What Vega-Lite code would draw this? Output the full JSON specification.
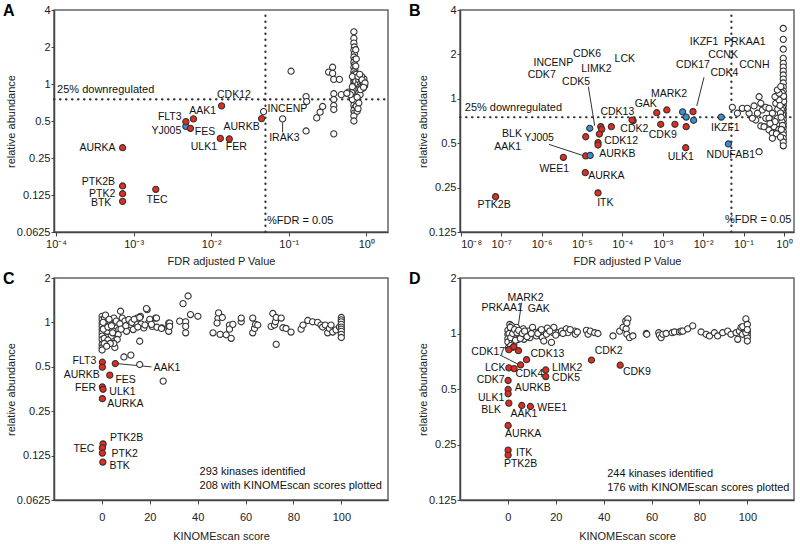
{
"$schema": "https://vega.github.io/schema/vega-lite/v6.json",
"padding": {"left": 2, "top": 2, "right": 4, "bottom": 0},
"config": {
  "font": "Liberation Sans",
  "view": {"stroke": "#666", "strokeWidth": 1.5},
  "axis": {"domainColor": "#444", "domainWidth": 1.5, "tickColor": "#444", "tickWidth": 1, "labelFont": "Liberation Sans", "titleFont": "Liberation Sans", "labelFontSize": 11, "titleFontSize": 11, "titleFontWeight": "normal", "labelColor": "#222", "titleColor": "#222", "grid": false},
  "title": {"font": "Liberation Sans", "fontSize": 16, "fontWeight": "bold", "color": "#000", "anchor": "start", "frame": "group", "offset": 0, "baseline": "alphabetic"}
},
"datasets": {
  "A": [
    {"x":0.0473,"y":0.596,"t":"g"},{"x":0.0832,"y":0.52,"t":"g"},{"x":0.107,"y":1.27,"t":"g"},{"x":0.167,"y":0.79,"t":"g"},{"x":0.17,"y":0.72,"t":"g"},{"x":0.167,"y":0.415,"t":"g"},{"x":0.229,"y":0.53,"t":"g"},{"x":0.253,"y":0.59,"t":"g"},{"x":0.273,"y":0.656,"t":"g"},{"x":0.326,"y":1.25,"t":"g"},{"x":0.367,"y":1.37,"t":"g"},{"x":0.367,"y":1.22,"t":"g"},{"x":0.38,"y":1.09,"t":"g"},{"x":0.449,"y":1.09,"t":"g"},{"x":0.38,"y":0.833,"t":"g"},{"x":0.475,"y":0.82,"t":"g"},{"x":0.38,"y":0.748,"t":"g"},{"x":0.38,"y":0.669,"t":"g"},{"x":0.38,"y":0.62,"t":"g"},{"x":0.38,"y":0.393,"t":"g"},{"x":0.586,"y":0.86,"t":"g"},
    {"x":0.69,"y":2.66,"t":"g"},{"x":0.69,"y":2.35,"t":"g"},{"x":0.69,"y":2.15,"t":"g"},{"x":0.7,"y":2.0,"t":"g"},{"x":0.69,"y":1.88,"t":"g"},{"x":0.7,"y":1.76,"t":"g"},{"x":0.69,"y":1.66,"t":"g"},{"x":0.7,"y":1.57,"t":"g"},{"x":0.69,"y":1.5,"t":"g"},{"x":0.7,"y":1.43,"t":"g"},{"x":0.69,"y":1.37,"t":"g"},{"x":0.71,"y":1.31,"t":"g"},{"x":0.69,"y":1.26,"t":"g"},{"x":0.7,"y":1.21,"t":"g"},{"x":0.69,"y":1.17,"t":"g"},{"x":0.71,"y":1.13,"t":"g"},{"x":0.69,"y":1.09,"t":"g"},{"x":0.7,"y":1.06,"t":"g"},{"x":0.69,"y":1.03,"t":"g"},{"x":0.7,"y":1.0,"t":"g"},{"x":0.69,"y":0.97,"t":"g"},{"x":0.71,"y":0.94,"t":"g"},{"x":0.69,"y":0.91,"t":"g"},{"x":0.7,"y":0.88,"t":"g"},{"x":0.69,"y":0.85,"t":"g"},{"x":0.71,"y":0.82,"t":"g"},{"x":0.69,"y":0.79,"t":"g"},{"x":0.7,"y":0.76,"t":"g"},{"x":0.69,"y":0.73,"t":"g"},{"x":0.7,"y":0.7,"t":"g"},{"x":0.69,"y":0.67,"t":"g"},{"x":0.71,"y":0.64,"t":"g"},{"x":0.69,"y":0.61,"t":"g"},{"x":0.7,"y":0.58,"t":"g"},{"x":0.69,"y":0.55,"t":"g"},{"x":0.69,"y":0.5,"t":"g"},
    {"x":0.73,"y":1.9,"t":"g"},{"x":0.74,"y":1.6,"t":"g"},{"x":0.73,"y":1.4,"t":"g"},{"x":0.74,"y":1.2,"t":"g"},{"x":0.75,"y":1.1,"t":"g"},{"x":0.73,"y":1.05,"t":"g"},{"x":0.75,"y":0.95,"t":"g"},{"x":0.74,"y":0.9,"t":"g"},{"x":0.73,"y":0.8,"t":"g"},{"x":0.75,"y":0.72,"t":"g"},{"x":0.74,"y":0.66,"t":"g"},{"x":0.76,"y":0.6,"t":"g"},{"x":0.66,"y":1.15,"t":"g"},{"x":0.66,"y":0.95,"t":"g"},{"x":0.65,"y":0.85,"t":"g"},{"x":0.66,"y":0.75,"t":"g"},
    {"x":0.78,"y":1.0,"t":"g"},{"x":0.8,"y":1.08,"t":"g"},{"x":0.82,"y":0.95,"t":"g"},{"x":0.85,"y":1.02,"t":"g"},{"x":0.88,"y":0.98,"t":"g"},{"x":0.9,"y":1.05,"t":"g"},{"x":0.92,"y":1.0,"t":"g"},{"x":0.95,"y":0.97,"t":"g"},{"x":0.85,"y":1.12,"t":"g"},{"x":0.9,"y":0.92,"t":"g"},{"x":0.8,"y":0.9,"t":"g"},{"x":0.93,"y":1.1,"t":"g"},{"x":0.87,"y":1.15,"t":"g"},{"x":0.78,"y":1.15,"t":"g"},{"x":0.8,"y":0.85,"t":"g"},{"x":0.83,"y":0.82,"t":"g"},{"x":0.76,"y":0.78,"t":"g"},{"x":0.8,"y":0.7,"t":"g"},{"x":0.78,"y":0.63,"t":"g"},{"x":0.62,"y":0.82,"t":"g"},{"x":0.56,"y":0.84,"t":"g"},{"x":0.82,"y":1.2,"t":"g"},{"x":0.88,"y":1.08,"t":"g"},{"x":0.84,"y":0.9,"t":"g"},{"x":0.96,"y":1.02,"t":"g"},{"x":0.92,"y":0.94,"t":"g"},
    {"x":0.00471,"y":0.452,"t":"b"},
    {"x":0.00072,"y":0.303,"t":"r"},{"x":0.00072,"y":0.148,"t":"r"},{"x":0.00072,"y":0.128,"t":"r"},{"x":0.00072,"y":0.111,"t":"r"},{"x":0.00193,"y":0.139,"t":"r"},{"x":0.00471,"y":0.494,"t":"r"},{"x":0.0054,"y":0.436,"t":"r"},{"x":0.0059,"y":0.52,"t":"r"},{"x":0.0136,"y":0.664,"t":"r"},{"x":0.0131,"y":0.361,"t":"r"},{"x":0.0171,"y":0.357,"t":"r"},{"x":0.0446,"y":0.523,"t":"r"}
  ],
  "Alab": [
    {"x":0.000342,"y":0.303,"k":"AURKA"},{"x":0.000352,"y":0.158,"k":"PTK2B"},{"x":0.000393,"y":0.128,"k":"PTK2"},{"x":0.000381,"y":0.107,"k":"BTK"},{"x":0.002,"y":0.113,"k":"TEC"},{"x":0.00292,"y":0.536,"k":"FLT3"},{"x":0.00264,"y":0.418,"k":"YJ005"},{"x":0.0083,"y":0.41,"k":"FES"},{"x":0.00773,"y":0.608,"k":"AAK1"},{"x":0.0196,"y":0.817,"k":"CDK12"},{"x":0.00803,"y":0.31,"k":"ULK1"},{"x":0.021,"y":0.305,"k":"FER"},{"x":0.0246,"y":0.45,"k":"AURKB"},{"x":0.096,"y":0.628,"k":"INCENP"},{"x":0.0875,"y":0.361,"k":"IRAK3"}
  ],
  "Aann": [{"x":0.000103,"y":0.9,"k":"25% downregulated"},{"x":0.0524,"y":0.0766,"k":"%FDR = 0.05"}],
  "Adot": [{"x":0.05,"y":0.0625,"x2":0.05,"y2":4},{"x":0.000094,"y":0.75,"x2":1.9,"y2":0.75}],
  "Aline": [{"x":0.0832,"y":0.488,"x2":0.0832,"y2":0.404}],
  "B": [
    {"x":0.96,"y":3.0,"t":"g"},{"x":0.96,"y":2.53,"t":"g"},{"x":0.96,"y":2.17,"t":"g"},{"x":0.96,"y":1.88,"t":"g"},{"x":0.96,"y":1.74,"t":"g"},{"x":0.96,"y":1.64,"t":"g"},{"x":0.96,"y":1.54,"t":"g"},{"x":0.96,"y":1.45,"t":"g"},{"x":0.96,"y":1.36,"t":"g"},{"x":0.96,"y":1.28,"t":"g"},{"x":0.96,"y":1.2,"t":"g"},{"x":0.96,"y":1.13,"t":"g"},{"x":0.96,"y":1.06,"t":"g"},{"x":0.96,"y":1.0,"t":"g"},{"x":0.96,"y":0.95,"t":"g"},{"x":0.96,"y":0.9,"t":"g"},{"x":0.96,"y":0.85,"t":"g"},{"x":0.96,"y":0.8,"t":"g"},{"x":0.96,"y":0.76,"t":"g"},{"x":0.96,"y":0.72,"t":"g"},{"x":0.96,"y":0.68,"t":"g"},{"x":0.96,"y":0.64,"t":"g"},{"x":0.96,"y":0.6,"t":"g"},{"x":0.96,"y":0.57,"t":"g"},{"x":0.96,"y":0.54,"t":"g"},{"x":0.96,"y":0.51,"t":"g"},{"x":0.96,"y":0.48,"t":"g"},
    {"x":0.9,"y":1.1,"t":"g"},{"x":0.92,"y":1.0,"t":"g"},{"x":0.89,"y":0.92,"t":"g"},{"x":0.92,"y":0.87,"t":"g"},{"x":0.9,"y":0.82,"t":"g"},{"x":0.92,"y":0.78,"t":"g"},{"x":0.89,"y":0.7,"t":"g"},{"x":0.92,"y":0.66,"t":"g"},{"x":0.87,"y":1.02,"t":"g"},{"x":0.98,"y":0.96,"t":"g"},{"x":0.98,"y":1.04,"t":"g"},{"x":0.86,"y":0.85,"t":"g"},
    {"x":0.0933,"y":0.862,"t":"g"},{"x":0.137,"y":0.798,"t":"g"},{"x":0.124,"y":0.862,"t":"g"},{"x":0.182,"y":0.894,"t":"g"},{"x":0.242,"y":1.033,"t":"g"},{"x":0.267,"y":0.932,"t":"g"},{"x":0.292,"y":0.84,"t":"g"},{"x":0.355,"y":0.876,"t":"g"},{"x":0.427,"y":0.862,"t":"g"},{"x":0.516,"y":0.798,"t":"g"},{"x":0.355,"y":0.738,"t":"g"},{"x":0.2,"y":0.718,"t":"g"},{"x":0.267,"y":0.654,"t":"g"},{"x":0.321,"y":0.647,"t":"g"},{"x":0.427,"y":0.614,"t":"g"},{"x":0.516,"y":0.584,"t":"g"},{"x":0.569,"y":0.647,"t":"g"},{"x":0.687,"y":0.738,"t":"g"},{"x":0.627,"y":0.932,"t":"g"},{"x":0.757,"y":0.981,"t":"g"},{"x":0.6,"y":1.033,"t":"g"},{"x":0.757,"y":1.09,"t":"g"},{"x":0.687,"y":1.147,"t":"g"},{"x":0.834,"y":1.21,"t":"g"},{"x":0.0528,"y":0.876,"t":"g"},{"x":0.0703,"y":0.798,"t":"g"},{"x":0.165,"y":0.738,"t":"g"},{"x":0.22,"y":0.798,"t":"g"},{"x":0.427,"y":0.738,"t":"g"},{"x":0.516,"y":0.54,"t":"g"},{"x":0.242,"y":0.438,"t":"g"},
    {"x":0.7,"y":0.85,"t":"g"},{"x":0.8,"y":0.9,"t":"g"},{"x":0.82,"y":0.8,"t":"g"},{"x":0.85,"y":0.75,"t":"g"},{"x":0.6,"y":0.7,"t":"g"},{"x":0.45,"y":0.68,"t":"g"},{"x":0.75,"y":0.62,"t":"g"},{"x":0.65,"y":0.58,"t":"g"},{"x":0.82,"y":0.55,"t":"g"},{"x":0.86,"y":0.62,"t":"g"},
    {"x":0.0000292,"y":0.647,"t":"r"},{"x":0.0000309,"y":0.621,"t":"r"},{"x":0.0000535,"y":0.647,"t":"r"},{"x":0.0000124,"y":0.553,"t":"r"},{"x":0.000027,"y":0.577,"t":"r"},{"x":0.000025,"y":0.504,"t":"r"},{"x":0.000025,"y":0.486,"t":"r"},{"x":0.0000124,"y":0.41,"t":"r"},{"x":0.00000347,"y":0.401,"t":"r"},{"x":0.0000121,"y":0.316,"t":"r"},{"x":0.000025,"y":0.23,"t":"r"},{"x":0.000000073,"y":0.217,"t":"r"},{"x":0.000185,"y":0.712,"t":"r"},{"x":0.000174,"y":0.718,"t":"r"},{"x":0.00071,"y":0.805,"t":"r"},{"x":0.00126,"y":0.84,"t":"r"},{"x":0.00089,"y":0.672,"t":"r"},{"x":0.002,"y":0.672,"t":"r"},{"x":0.0056,"y":0.818,"t":"r"},{"x":0.0038,"y":0.647,"t":"r"},{"x":0.0037,"y":0.466,"t":"r"},
    {"x":0.0000156,"y":0.631,"t":"b"},{"x":0.000016,"y":0.413,"t":"b"},{"x":0.0031,"y":0.815,"t":"b"},{"x":0.0038,"y":0.752,"t":"b"},{"x":0.0058,"y":0.715,"t":"b"},{"x":0.028,"y":0.752,"t":"b"},{"x":0.042,"y":0.494,"t":"b"}
  ],
  "Blab": [
    {"x":0.0000134,"y":2.01,"k":"CDK6"},{"x":0.00000196,"y":1.757,"k":"INCENP"},{"x":0.000115,"y":1.87,"k":"LCK"},{"x":0.0000227,"y":1.6,"k":"LIMK2"},{"x":0.00000101,"y":1.45,"k":"CDK7"},{"x":0.00000715,"y":1.306,"k":"CDK5"},{"x":0.000000186,"y":0.577,"k":"BLK"},{"x":0.000000867,"y":0.545,"k":"YJ005"},{"x":0.000000146,"y":0.473,"k":"AAK1"},{"x":0.00000207,"y":0.333,"k":"WEE1"},{"x":0.0000402,"y":0.301,"k":"AURKA"},{"x":0.000038,"y":0.198,"k":"ITK"},{"x":0.0000000667,"y":0.19,"k":"PTK2B"},{"x":0.0000752,"y":0.42,"k":"AURKB"},{"x":0.000093,"y":0.518,"k":"CDK12"},{"x":0.000075,"y":0.814,"k":"CDK13"},{"x":0.000198,"y":0.621,"k":"CDK2"},{"x":0.001,"y":0.571,"k":"CDK9"},{"x":0.00038,"y":0.918,"k":"GAK"},{"x":0.00143,"y":1.072,"k":"MARK2"},{"x":0.00279,"y":0.405,"k":"ULK1"},{"x":0.0105,"y":2.42,"k":"IKZF1"},{"x":0.107,"y":2.42,"k":"PRKAA1"},{"x":0.0311,"y":1.98,"k":"CCNK"},{"x":0.0056,"y":1.695,"k":"CDK17"},{"x":0.185,"y":1.695,"k":"CCNH"},{"x":0.0335,"y":1.489,"k":"CDK4"},{"x":0.0355,"y":0.637,"k":"IKZF1"},{"x":0.0482,"y":0.416,"k":"NDUFAB1"}
  ],
  "Bann": [{"x":0.0000000126,"y":0.862,"k":"25% downregulated"},{"x":0.0348,"y":0.151,"k":"%FDR = 0.05"}],
  "Bdot": [{"x":0.05,"y":0.125,"x2":0.05,"y2":4},{"x":0.0000000096,"y":0.75,"x2":1.77,"y2":0.75}],
  "Bline": [{"x":0.0000144,"y":1.208,"x2":0.0000207,"y2":0.657},{"x":0.00000153,"y":0.491,"x2":0.0000113,"y2":0.41},{"x":0.0105,"y":1.4,"x2":0.00695,"y2":0.894}],
  "C": [
    {"x":0.1,"y":1.1,"t":"g"},{"x":0.1,"y":1.045,"t":"g"},{"x":0.1,"y":0.99,"t":"g"},{"x":0.1,"y":0.94,"t":"g"},{"x":0.1,"y":0.894,"t":"g"},{"x":0.1,"y":0.849,"t":"g"},{"x":0.1,"y":0.807,"t":"g"},{"x":0.1,"y":0.766,"t":"g"},{"x":0.1,"y":0.709,"t":"g"},{"x":0.1,"y":0.674,"t":"g"},{"x":0.1,"y":0.65,"t":"g"},
    {"x":1.1,"y":1.07,"t":"g"},{"x":1.5,"y":0.966,"t":"g"},{"x":2.2,"y":0.87,"t":"g"},{"x":2.5,"y":1.02,"t":"g"},{"x":3.6,"y":0.99,"t":"g"},{"x":3.6,"y":0.917,"t":"g"},{"x":3.9,"y":0.807,"t":"g"},{"x":5,"y":1.07,"t":"g"},{"x":5.7,"y":0.975,"t":"g"},{"x":6.1,"y":0.917,"t":"g"},{"x":5,"y":0.87,"t":"g"},{"x":7.1,"y":0.894,"t":"g"},{"x":6.8,"y":0.828,"t":"g"},{"x":6.4,"y":0.766,"t":"g"},{"x":5.4,"y":0.677,"t":"g"},{"x":5,"y":0.72,"t":"g"},
    {"x":7.8,"y":1.19,"t":"g"},{"x":8.5,"y":1.07,"t":"g"},{"x":9.2,"y":0.99,"t":"g"},{"x":8.5,"y":0.94,"t":"g"},{"x":10.3,"y":0.87,"t":"g"},{"x":9.6,"y":1.02,"t":"g"},{"x":11.25,"y":1.045,"t":"g"},{"x":11.9,"y":0.966,"t":"g"},{"x":13.1,"y":0.894,"t":"g"},{"x":14,"y":0.99,"t":"g"},{"x":14.7,"y":1.07,"t":"g"},{"x":16.1,"y":1.1,"t":"g"},{"x":16.4,"y":0.975,"t":"g"},{"x":15.8,"y":0.745,"t":"g"},{"x":17.5,"y":0.917,"t":"g"},{"x":18.9,"y":1.22,"t":"g"},{"x":19.6,"y":1.0,"t":"g"},{"x":21,"y":0.94,"t":"g"},{"x":22.4,"y":1.07,"t":"g"},{"x":23,"y":0.927,"t":"g"},{"x":25.1,"y":0.917,"t":"g"},{"x":27.9,"y":0.99,"t":"g"},{"x":27.9,"y":0.94,"t":"g"},{"x":27.9,"y":0.87,"t":"g"},
    {"x":0.5,"y":1.0,"t":"g"},{"x":0.6,"y":0.9,"t":"g"},{"x":1.5,"y":1.12,"t":"g"},{"x":2.5,"y":0.93,"t":"g"},{"x":3,"y":1.05,"t":"g"},{"x":4,"y":0.95,"t":"g"},{"x":4.5,"y":0.85,"t":"g"},{"x":6,"y":1.02,"t":"g"},{"x":7.5,"y":0.98,"t":"g"},{"x":8,"y":0.9,"t":"g"},{"x":10,"y":0.95,"t":"g"},{"x":12.5,"y":1.0,"t":"g"},{"x":13.5,"y":1.05,"t":"g"},{"x":15,"y":0.93,"t":"g"},{"x":18,"y":0.96,"t":"g"},{"x":20,"y":1.05,"t":"g"},{"x":1,"y":0.78,"t":"g"},{"x":2.5,"y":0.76,"t":"g"},{"x":3.5,"y":0.72,"t":"g"},{"x":1,"y":0.72,"t":"g"},{"x":2,"y":0.69,"t":"g"},
    {"x":9.2,"y":0.583,"t":"g"},{"x":12.1,"y":0.6,"t":"g"},{"x":15.8,"y":0.518,"t":"g"},{"x":25.6,"y":0.4,"t":"g"},
    {"x":33.9,"y":1.34,"t":"g"},{"x":36,"y":1.51,"t":"g"},{"x":37,"y":1.13,"t":"g"},{"x":40.1,"y":1.1,"t":"g"},{"x":32.5,"y":1.02,"t":"g"},{"x":35,"y":1.01,"t":"g"},{"x":35,"y":0.94,"t":"g"},{"x":35,"y":0.85,"t":"g"},{"x":28.3,"y":0.99,"t":"g"},{"x":28.3,"y":0.94,"t":"g"},{"x":24.9,"y":0.91,"t":"g"},{"x":22.8,"y":1.07,"t":"g"},{"x":18.6,"y":1.24,"t":"g"},{"x":20.7,"y":0.97,"t":"g"},{"x":15.8,"y":1.08,"t":"g"},
    {"x":46.4,"y":0.85,"t":"g"},{"x":48.5,"y":1.066,"t":"g"},{"x":48.75,"y":1.16,"t":"g"},{"x":48.1,"y":0.99,"t":"g"},{"x":49.4,"y":0.83,"t":"g"},{"x":50.3,"y":1.08,"t":"g"},{"x":51.9,"y":0.824,"t":"g"},{"x":53.3,"y":0.96,"t":"g"},{"x":53.3,"y":0.9,"t":"g"},{"x":54,"y":0.78,"t":"g"},{"x":54.7,"y":0.97,"t":"g"},{"x":58.2,"y":1.01,"t":"g"},{"x":58.2,"y":1.07,"t":"g"},{"x":63,"y":0.85,"t":"g"},{"x":63,"y":1.07,"t":"g"},{"x":63.75,"y":0.91,"t":"g"},{"x":64.2,"y":0.97,"t":"g"},{"x":65.1,"y":0.96,"t":"g"},{"x":70.7,"y":0.94,"t":"g"},{"x":71.4,"y":1.15,"t":"g"},{"x":72.1,"y":0.96,"t":"g"},{"x":72.5,"y":1.01,"t":"g"},{"x":72.8,"y":1.08,"t":"g"},{"x":72.8,"y":0.71,"t":"g"},{"x":74.9,"y":1.07,"t":"g"},{"x":75.6,"y":0.92,"t":"g"},{"x":76.9,"y":0.91,"t":"g"},{"x":79,"y":0.86,"t":"g"},{"x":83.2,"y":0.9,"t":"g"},{"x":84,"y":0.96,"t":"g"},{"x":86,"y":1.03,"t":"g"},{"x":88,"y":1.01,"t":"g"},{"x":90.1,"y":1.0,"t":"g"},{"x":91.5,"y":0.96,"t":"g"},{"x":92.2,"y":0.93,"t":"g"},{"x":93.3,"y":0.96,"t":"g"},{"x":94.3,"y":0.85,"t":"g"},{"x":95,"y":0.91,"t":"g"},{"x":95.7,"y":0.96,"t":"g"},{"x":96.4,"y":0.86,"t":"g"},{"x":97.8,"y":0.89,"t":"g"},{"x":99.2,"y":0.93,"t":"g"},
    {"x":100,"y":1.08,"t":"g"},{"x":100,"y":1.04,"t":"g"},{"x":100,"y":1.01,"t":"g"},{"x":100,"y":0.97,"t":"g"},{"x":100,"y":0.93,"t":"g"},{"x":100,"y":0.9,"t":"g"},{"x":100,"y":0.87,"t":"g"},{"x":100,"y":0.83,"t":"g"},{"x":100,"y":0.79,"t":"g"},
    {"x":0.2,"y":0.537,"t":"r"},{"x":0.2,"y":0.497,"t":"r"},{"x":5.6,"y":0.526,"t":"r"},{"x":3.3,"y":0.439,"t":"r"},{"x":0.2,"y":0.365,"t":"r"},{"x":0.5,"y":0.352,"t":"r"},{"x":0.2,"y":0.304,"t":"r"},{"x":0.5,"y":0.15,"t":"r"},{"x":0.2,"y":0.141,"t":"r"},{"x":0.2,"y":0.13,"t":"r"},{"x":0.4,"y":0.113,"t":"r"}
  ],
  "Clab": [
    {"x":-7.3,"y":0.551,"k":"FLT3"},{"x":-8.4,"y":0.437,"k":"AURKB"},{"x":-6.8,"y":0.361,"k":"FER"},{"x":-7.5,"y":0.138,"k":"TEC"},{"x":9.9,"y":0.406,"k":"FES"},{"x":8.6,"y":0.339,"k":"ULK1"},{"x":9.8,"y":0.279,"k":"AURKA"},{"x":10.3,"y":0.165,"k":"PTK2B"},{"x":9.5,"y":0.129,"k":"PTK2"},{"x":7.4,"y":0.107,"k":"BTK"},{"x":27.2,"y":0.492,"k":"AAK1"}
  ],
  "Cann": [{"x":40.8,"y":0.097,"k":"293 kinases identified"},{"x":40.8,"y":0.0775,"k":"208 with KINOMEscan scores plotted"}],
  "Cline": [{"x":6.1,"y":0.526,"x2":20.7,"y2":0.4993}],
  "D": [
    {"x":0.8,"y":1.12,"t":"g"},{"x":0.8,"y":1.06,"t":"g"},{"x":0.8,"y":1.01,"t":"g"},{"x":0.8,"y":0.97,"t":"g"},{"x":0.8,"y":0.93,"t":"g"},{"x":0.8,"y":0.895,"t":"g"},{"x":0.8,"y":0.86,"t":"g"},{"x":0,"y":1.04,"t":"g"},{"x":0,"y":0.99,"t":"g"},{"x":0,"y":0.94,"t":"g"},{"x":0,"y":0.9,"t":"g"},{"x":1.5,"y":1.1,"t":"g"},{"x":1.5,"y":0.96,"t":"g"},{"x":1.8,"y":0.91,"t":"g"},{"x":2.2,"y":1.03,"t":"g"},{"x":2.5,"y":0.88,"t":"g"},{"x":2.9,"y":0.97,"t":"g"},{"x":3.6,"y":1.08,"t":"g"},{"x":4.3,"y":0.93,"t":"g"},{"x":5,"y":1.01,"t":"g"},{"x":5.7,"y":0.97,"t":"g"},{"x":6.4,"y":1.06,"t":"g"},{"x":6.7,"y":0.93,"t":"g"},{"x":7.5,"y":0.99,"t":"g"},{"x":8.5,"y":1.03,"t":"g"},{"x":9.2,"y":0.95,"t":"g"},{"x":10.3,"y":1.08,"t":"g"},{"x":11.25,"y":1.01,"t":"g"},{"x":11.9,"y":0.97,"t":"g"},{"x":13.3,"y":1.03,"t":"g"},{"x":14.4,"y":0.95,"t":"g"},{"x":15,"y":0.91,"t":"g"},{"x":16.1,"y":0.99,"t":"g"},{"x":16.5,"y":1.07,"t":"g"},{"x":18.2,"y":0.895,"t":"g"},{"x":18.9,"y":1.01,"t":"g"},{"x":19.2,"y":1.08,"t":"g"},{"x":21,"y":1.01,"t":"g"},{"x":22.4,"y":1.03,"t":"g"},{"x":24.4,"y":1.06,"t":"g"},{"x":25.1,"y":1.01,"t":"g"},{"x":27.9,"y":1.03,"t":"g"},{"x":28.2,"y":0.99,"t":"g"},{"x":32.8,"y":1.04,"t":"g"},{"x":33.5,"y":0.99,"t":"g"},{"x":34.4,"y":1.03,"t":"g"},{"x":36.25,"y":1.01,"t":"g"},{"x":37.6,"y":1.0,"t":"g"},{"x":43.9,"y":0.97,"t":"g"},{"x":46.7,"y":1.03,"t":"g"},{"x":48.1,"y":1.08,"t":"g"},{"x":49.2,"y":1.17,"t":"g"},{"x":49.4,"y":1.06,"t":"g"},{"x":49.7,"y":0.99,"t":"g"},{"x":50.1,"y":1.2,"t":"g"},{"x":49.7,"y":1.14,"t":"g"},{"x":50.8,"y":0.95,"t":"g"},{"x":52.2,"y":0.97,"t":"g"},{"x":57.8,"y":1.0,"t":"g"},{"x":58,"y":0.99,"t":"g"},{"x":63,"y":1.01,"t":"g"},{"x":63.3,"y":0.98,"t":"g"},{"x":64,"y":0.95,"t":"g"},{"x":64.7,"y":0.99,"t":"g"},{"x":66.1,"y":1.0,"t":"g"},{"x":68.6,"y":1.01,"t":"g"},{"x":69.6,"y":1.02,"t":"g"},{"x":71.7,"y":1.02,"t":"g"},{"x":72.4,"y":1.03,"t":"g"},{"x":73.1,"y":1.03,"t":"g"},{"x":75.1,"y":1.06,"t":"g"},{"x":77.2,"y":1.1,"t":"g"},{"x":80.7,"y":1.02,"t":"g"},{"x":82.8,"y":0.99,"t":"g"},{"x":84.2,"y":0.97,"t":"g"},{"x":86.25,"y":1.01,"t":"g"},{"x":87.6,"y":0.97,"t":"g"},{"x":89.7,"y":1.01,"t":"g"},{"x":91.8,"y":1.03,"t":"g"},{"x":93.2,"y":0.99,"t":"g"},{"x":95.3,"y":1.01,"t":"g"},{"x":96,"y":0.93,"t":"g"},{"x":96.7,"y":1.03,"t":"g"},{"x":97.4,"y":1.08,"t":"g"},{"x":98,"y":0.99,"t":"g"},{"x":98.1,"y":1.09,"t":"g"},{"x":99.4,"y":1.2,"t":"g"},{"x":100,"y":1.12,"t":"g"},{"x":100,"y":1.02,"t":"g"},{"x":100,"y":0.98,"t":"g"},{"x":100,"y":0.95,"t":"g"},{"x":100,"y":0.91,"t":"g"},{"x":99.4,"y":1.01,"t":"g"},{"x":100,"y":1.05,"t":"g"},
    {"x":0.5,"y":1.0,"t":"g"},{"x":1,"y":1.08,"t":"g"},{"x":1.2,"y":0.95,"t":"g"},{"x":2,"y":1.0,"t":"g"},{"x":2.8,"y":1.05,"t":"g"},{"x":3.2,"y":0.92,"t":"g"},{"x":3.8,"y":1.01,"t":"g"},{"x":4.5,"y":1.04,"t":"g"},{"x":5.2,"y":0.94,"t":"g"},{"x":6,"y":1.0,"t":"g"},{"x":7,"y":1.03,"t":"g"},{"x":8,"y":0.96,"t":"g"},{"x":9.8,"y":1.0,"t":"g"},{"x":12.5,"y":1.0,"t":"g"},{"x":14,"y":1.05,"t":"g"},{"x":17.5,"y":1.03,"t":"g"},{"x":20,"y":0.98,"t":"g"},{"x":23,"y":1.0,"t":"g"},{"x":26,"y":1.05,"t":"g"},{"x":29,"y":1.02,"t":"g"},{"x":0.3,"y":0.84,"t":"g"},{"x":1.2,"y":0.86,"t":"g"},{"x":2,"y":0.84,"t":"g"},
    {"x":0.4,"y":0.817,"t":"r"},{"x":2.5,"y":0.848,"t":"r"},{"x":4.4,"y":0.807,"t":"r"},{"x":7.8,"y":0.721,"t":"r"},{"x":5.3,"y":0.675,"t":"r"},{"x":0.4,"y":0.651,"t":"r"},{"x":2.6,"y":0.645,"t":"r"},{"x":15.8,"y":0.634,"t":"r"},{"x":15.8,"y":0.584,"t":"r"},{"x":34.9,"y":0.718,"t":"r"},{"x":46.9,"y":0.673,"t":"r"},{"x":0.1,"y":0.556,"t":"r"},{"x":0.1,"y":0.497,"t":"r"},{"x":0.1,"y":0.471,"t":"r"},{"x":0.4,"y":0.419,"t":"r"},{"x":5.8,"y":0.407,"t":"r"},{"x":9.4,"y":0.402,"t":"r"},{"x":0.1,"y":0.317,"t":"r"},{"x":0.1,"y":0.233,"t":"r"},{"x":0.1,"y":0.219,"t":"r"}
  ],
  "Dlab": [
    {"x":7.4,"y":1.56,"k":"MARK2"},{"x":-2.4,"y":1.377,"k":"PRKAA1"},{"x":12.9,"y":1.356,"k":"GAK"},{"x":-8.2,"y":0.79,"k":"CDK17"},{"x":16.5,"y":0.774,"k":"CDK13"},{"x":-5.3,"y":0.65,"k":"LCK"},{"x":9.0,"y":0.6,"k":"CDK4"},{"x":24.8,"y":0.65,"k":"LIMK2"},{"x":24.3,"y":0.575,"k":"CDK5"},{"x":42.1,"y":0.8,"k":"CDK2"},{"x":53.9,"y":0.622,"k":"CDK9"},{"x":-7.2,"y":0.556,"k":"CDK7"},{"x":10.4,"y":0.508,"k":"AURKB"},{"x":-7.0,"y":0.448,"k":"ULK1"},{"x":-7.0,"y":0.386,"k":"BLK"},{"x":6.7,"y":0.364,"k":"AAK1"},{"x":18.5,"y":0.396,"k":"WEE1"},{"x":6.4,"y":0.286,"k":"AURKA"},{"x":6.8,"y":0.225,"k":"ITK"},{"x":5.3,"y":0.196,"k":"PTK2B"}
  ],
  "Dann": [{"x":41.5,"y":0.174,"k":"244 kinases identified"},{"x":41.5,"y":0.145,"k":"176 with KINOMEscan scores plotted"}],
  "Dline": [{"x":5.7,"y":1.47,"x2":3.9,"y2":1.0},{"x":-3.3,"y":0.765,"x2":4.6,"y2":0.678}]
},
"columns": 2,
"spacing": {"row": 46, "column": 72},
"bounds": "flush",
"concat": [
  {
    "width": 334, "height": 222,
    "title": {"text": "A", "dx": -51, "dy": 19},
    "encoding": {
      "x": {"field": "x", "type": "quantitative", "scale": {"type": "log", "domain": [0.000094, 1.9], "nice": false}, "axis": {"values": [0.0001, 0.001, 0.01, 0.1, 1], "labelExpr": "'10' + ['⁻⁸','⁻⁷','⁻⁶','⁻⁵','⁻⁴','⁻³','⁻²','⁻¹','⁰'][round(log(datum.value)/LN10)+8]", "title": "FDR adjusted P Value", "tickSize": 4, "labelPadding": 2, "titlePadding": 6}},
      "y": {"field": "y", "type": "quantitative", "scale": {"type": "log", "base": 2, "domain": [0.0625, 4], "nice": false}, "axis": {"values": [0.0625, 0.125, 0.25, 0.5, 1, 2, 4], "format": "~g", "title": "relative abundance", "tickSize": 3, "labelPadding": 1, "titlePadding": 0}}
    },
    "layer": [
      {"data": {"name": "Adot"}, "mark": {"type": "rule", "strokeDash": [0.5, 5.5], "strokeWidth": 2.2, "strokeCap": "round", "color": "#333"}, "encoding": {"x2": {"field": "x2"}, "y2": {"field": "y2"}}},
      {"data": {"name": "Aline"}, "mark": {"type": "rule", "strokeWidth": 1, "color": "#333"}, "encoding": {"x2": {"field": "x2"}, "y2": {"field": "y2"}}},
      {"data": {"name": "A"}, "mark": {"type": "circle", "size": 38, "stroke": "#333", "strokeWidth": 1.1, "opacity": 1}, "encoding": {"fill": {"field": "t", "type": "nominal", "scale": {"domain": ["g", "b", "r"], "range": ["#ffffff", "#3b8ed4", "#e32b20"]}, "legend": null}}},
      {"data": {"name": "Alab"}, "mark": {"type": "text", "fontSize": 10.5, "color": "#111", "align": "center", "baseline": "middle"}, "encoding": {"text": {"field": "k"}}},
      {"data": {"name": "Aann"}, "mark": {"type": "text", "fontSize": 11, "color": "#111", "align": "left", "baseline": "middle"}, "encoding": {"text": {"field": "k"}}}
    ]
  },
  {
    "width": 334, "height": 222,
    "title": {"text": "B", "dx": -51, "dy": 19},
    "encoding": {
      "x": {"field": "x", "type": "quantitative", "scale": {"type": "log", "domain": [0.0000000096, 1.77], "nice": false}, "axis": {"values": [0.00000001, 0.0000001, 0.000001, 0.00001, 0.0001, 0.001, 0.01, 0.1, 1], "labelExpr": "'10' + ['⁻⁸','⁻⁷','⁻⁶','⁻⁵','⁻⁴','⁻³','⁻²','⁻¹','⁰'][round(log(datum.value)/LN10)+8]", "title": "FDR adjusted P Value", "tickSize": 4, "labelPadding": 2, "titlePadding": 6}},
      "y": {"field": "y", "type": "quantitative", "scale": {"type": "log", "base": 2, "domain": [0.125, 4], "nice": false}, "axis": {"values": [0.125, 0.25, 0.5, 1, 2, 4], "format": "~g", "title": "relative abundance", "tickSize": 3, "labelPadding": 1, "titlePadding": 0}}
    },
    "layer": [
      {"data": {"name": "Bdot"}, "mark": {"type": "rule", "strokeDash": [0.5, 5.5], "strokeWidth": 2.2, "strokeCap": "round", "color": "#333"}, "encoding": {"x2": {"field": "x2"}, "y2": {"field": "y2"}}},
      {"data": {"name": "Bline"}, "mark": {"type": "rule", "strokeWidth": 1, "color": "#333"}, "encoding": {"x2": {"field": "x2"}, "y2": {"field": "y2"}}},
      {"data": {"name": "B"}, "mark": {"type": "circle", "size": 38, "stroke": "#333", "strokeWidth": 1.1, "opacity": 1}, "encoding": {"fill": {"field": "t", "type": "nominal", "scale": {"domain": ["g", "b", "r"], "range": ["#ffffff", "#3b8ed4", "#e32b20"]}, "legend": null}}},
      {"data": {"name": "Blab"}, "mark": {"type": "text", "fontSize": 10.5, "color": "#111", "align": "center", "baseline": "middle"}, "encoding": {"text": {"field": "k"}}},
      {"data": {"name": "Bann"}, "mark": {"type": "text", "fontSize": 11, "color": "#111", "align": "left", "baseline": "middle"}, "encoding": {"text": {"field": "k"}}}
    ]
  },
  {
    "width": 334, "height": 222,
    "title": {"text": "C", "dx": -51, "dy": 19},
    "encoding": {
      "x": {"field": "x", "type": "quantitative", "scale": {"domain": [-20, 119.5], "nice": false, "zero": false}, "axis": {"values": [0, 20, 40, 60, 80, 100], "title": "KINOMEscan score", "tickSize": 4, "labelPadding": 7, "titlePadding": 8}},
      "y": {"field": "y", "type": "quantitative", "scale": {"type": "log", "base": 2, "domain": [0.0625, 2], "nice": false}, "axis": {"values": [0.0625, 0.125, 0.25, 0.5, 1, 2], "format": "~g", "title": "relative abundance", "tickSize": 3, "labelPadding": 1, "titlePadding": 0}}
    },
    "layer": [
      {"data": {"name": "Cline"}, "mark": {"type": "rule", "strokeWidth": 1, "color": "#333"}, "encoding": {"x2": {"field": "x2"}, "y2": {"field": "y2"}}},
      {"data": {"name": "C"}, "mark": {"type": "circle", "size": 38, "stroke": "#333", "strokeWidth": 1.1, "opacity": 1}, "encoding": {"fill": {"field": "t", "type": "nominal", "scale": {"domain": ["g", "b", "r"], "range": ["#ffffff", "#3b8ed4", "#e32b20"]}, "legend": null}}},
      {"data": {"name": "Clab"}, "mark": {"type": "text", "fontSize": 10.5, "color": "#111", "align": "center", "baseline": "middle"}, "encoding": {"text": {"field": "k"}}},
      {"data": {"name": "Cann"}, "mark": {"type": "text", "fontSize": 11, "color": "#111", "align": "left", "baseline": "middle"}, "encoding": {"text": {"field": "k"}}}
    ]
  },
  {
    "width": 334, "height": 222,
    "title": {"text": "D", "dx": -51, "dy": 19},
    "encoding": {
      "x": {"field": "x", "type": "quantitative", "scale": {"domain": [-20, 119.5], "nice": false, "zero": false}, "axis": {"values": [0, 20, 40, 60, 80, 100], "title": "KINOMEscan score", "tickSize": 4, "labelPadding": 7, "titlePadding": 8}},
      "y": {"field": "y", "type": "quantitative", "scale": {"type": "log", "base": 2, "domain": [0.125, 2], "nice": false}, "axis": {"values": [0.125, 0.25, 0.5, 1, 2], "format": "~g", "title": "relative abundance", "tickSize": 3, "labelPadding": 1, "titlePadding": 0}}
    },
    "layer": [
      {"data": {"name": "Dline"}, "mark": {"type": "rule", "strokeWidth": 1, "color": "#333"}, "encoding": {"x2": {"field": "x2"}, "y2": {"field": "y2"}}},
      {"data": {"name": "D"}, "mark": {"type": "circle", "size": 38, "stroke": "#333", "strokeWidth": 1.1, "opacity": 1}, "encoding": {"fill": {"field": "t", "type": "nominal", "scale": {"domain": ["g", "b", "r"], "range": ["#ffffff", "#3b8ed4", "#e32b20"]}, "legend": null}}},
      {"data": {"name": "Dlab"}, "mark": {"type": "text", "fontSize": 10.5, "color": "#111", "align": "center", "baseline": "middle"}, "encoding": {"text": {"field": "k"}}},
      {"data": {"name": "Dann"}, "mark": {"type": "text", "fontSize": 11, "color": "#111", "align": "left", "baseline": "middle"}, "encoding": {"text": {"field": "k"}}}
    ]
  }
]
}
